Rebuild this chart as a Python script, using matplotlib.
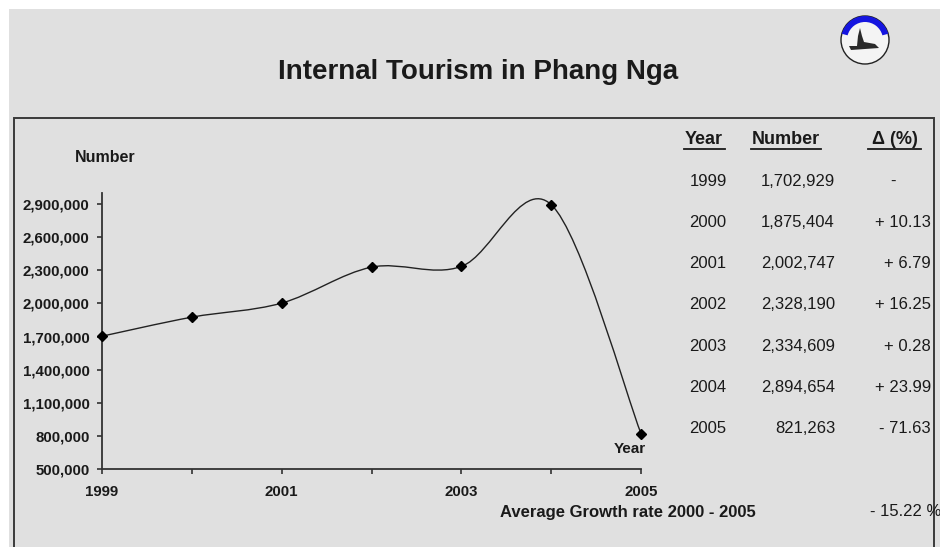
import numpy as np
import matplotlib
matplotlib.use("Agg")
import matplotlib.pyplot as plt
from matplotlib.path import Path
from matplotlib.patches import PathPatch, Rectangle, Circle, Wedge, Polygon
from matplotlib.lines import Line2D
from matplotlib.ticker import FuncFormatter

plt.rcParams['font.family'] = ['Liberation Sans', 'DejaVu Sans']

# Datos
years = [1999, 2000, 2001, 2002, 2003, 2004, 2005]
visitors = [1702929, 1875404, 2002747, 2328190, 2334609, 2894654, 821263]
growth = [None, 10.13, 6.79, 16.25, 0.28, 23.99, -71.63]
avg_growth = -15.22
y_ticks = [500000, 800000, 1100000, 1400000, 1700000, 2000000, 2300000, 2600000, 2900000]
x_labels = [1999, 2001, 2003, 2005]

W, H = 940, 547
BG = '#e0e0e0'
TXT = '#1a1a1a'


def px(x, y):
    # pixel -> fracción de figura
    return x / W, 1 - y / H


fig = plt.figure(figsize=(W / 100, H / 100), dpi=100, facecolor='white')

# fondo gris y marco interior
fig.patches.append(Rectangle(px(9, 547), (W - 9) / W, (547 - 9) / H,
                             transform=fig.transFigure, facecolor=BG, edgecolor='none', zorder=0))
fig.patches.append(Rectangle(px(13.5, 560), (934 - 13.5) / W, (560 - 118) / H,
                             transform=fig.transFigure, facecolor='none', edgecolor='#3a3a3a',
                             lw=1.4, zorder=1, clip_on=False))

# logo (aproximado)
lx, ly = 865, H - 40
fig.patches.append(Circle((lx, ly), 24, transform=None, facecolor='#f4f4f4',
                          edgecolor='#222222', lw=1, zorder=2))
fig.patches.append(Wedge((lx, ly), 24, 15, 165, width=6, transform=None,
                         facecolor='#1515e0', edgecolor='none', zorder=3))
fig.patches.append(Polygon([(lx - 16, ly - 6), (lx - 8, ly - 6), (lx - 7, ly + 4),
                            (lx - 5, ly + 12), (lx - 3, ly + 4), (lx - 1, ly - 2),
                            (lx + 10, ly - 4), (lx + 14, ly - 8), (lx - 14, ly - 10)],
                           closed=True, transform=None, facecolor='#2a2a2a',
                           edgecolor='none', zorder=3))
fig.add_artist(Line2D([lx - 6, lx + 14], [ly - 13, ly - 13], transform=None,
                      color='#2a2a2a', lw=1.5))

# título
fig.text(*px(478, 72), "Internal Tourism in Phang Nga", ha='center', va='center',
         fontsize=20, fontweight='bold', color=TXT)

# gráfico
ax = fig.add_axes([102 / W, 1 - 469 / H, (641 - 102) / W, (469 - 193) / H])
ax.set_zorder(5)
ax.set_facecolor('none')
ax.set_xlim(1999, 2005)
ax.set_ylim(500000, 3000000)

pts = np.column_stack([years, visitors]).astype(float)
n = len(pts)
verts = [tuple(pts[0])]
codes = [Path.MOVETO]
for i in range(n - 1):
    p_prev = pts[max(i - 1, 0)]
    p_next = pts[min(i + 2, n - 1)]
    c1 = pts[i] + (pts[i + 1] - p_prev) / 6
    c2 = pts[i + 1] - (p_next - pts[i]) / 6
    verts += [tuple(c1), tuple(c2), tuple(pts[i + 1])]
    codes += [Path.CURVE4] * 3
ax.add_patch(PathPatch(Path(verts, codes), facecolor='none', edgecolor='#222222',
                       lw=1.0, clip_on=False, zorder=3))
ax.plot(years, visitors, linestyle='none', marker='D', markersize=5.5,
        color='black', clip_on=False, zorder=4)

for s in ['top', 'right']:
    ax.spines[s].set_visible(False)
for s in ['left', 'bottom']:
    ax.spines[s].set_color('#333333')
    ax.spines[s].set_linewidth(1.3)

ax.set_yticks(y_ticks)
ax.yaxis.set_major_formatter(FuncFormatter(lambda v, p: f"{v:,.0f}"))
ax.set_xticks(years)
ax.set_xticklabels([str(y) if y in x_labels else '' for y in years])
ax.tick_params(axis='both', direction='out', length=3.5, width=1.2, color='#333333',
               labelsize=10.8, labelcolor=TXT)
ax.tick_params(axis='y', pad=5.5)
ax.tick_params(axis='x', pad=8)
for lab in ax.get_xticklabels() + ax.get_yticklabels():
    lab.set_fontweight('bold')

fig.text(*px(75, 157), "Number", ha='left', va='center', fontsize=11.5,
         fontweight='bold', color=TXT)
fig.text(*px(646, 449), "Year", ha='right', va='center', fontsize=11,
         fontweight='bold', color=TXT)

# tabla
headers = [("Year", 704, 684, 725), ("Number", 786, 751, 821), ("\u0394 (%)", 895, 868, 921)]
for label, xc, x0, x1 in headers:
    fig.text(*px(xc, 139), label, ha='center', va='center', fontsize=13,
             fontweight='bold', color=TXT)
    fig.add_artist(Line2D([x0 / W, x1 / W], [1 - 149 / H] * 2, color=TXT, lw=1.3,
                          transform=fig.transFigure))

for i, (yr, v, g) in enumerate(zip(years, visitors, growth)):
    yy = 181 + i * 41.3
    fig.text(*px(708, yy), str(yr), ha='center', va='center', fontsize=12, color=TXT)
    fig.text(*px(835, yy), f"{v:,}", ha='right', va='center', fontsize=12, color=TXT)
    if g is None:
        fig.text(*px(893, yy), "-", ha='center', va='center', fontsize=12, color=TXT)
    else:
        sign = '+' if g >= 0 else '-'
        fig.text(*px(931, yy), f"{sign} {abs(g):.2f}", ha='right', va='center',
                 fontsize=12, color=TXT)

fig.text(*px(500, 512), "Average Growth rate 2000 - 2005", ha='left', va='center',
         fontsize=12, fontweight='bold', color=TXT)
fig.text(*px(870, 512), f"- {abs(avg_growth):.2f} %", ha='left', va='center',
         fontsize=12, color=TXT)

fig.savefig('out.png', dpi=100, facecolor='white')
